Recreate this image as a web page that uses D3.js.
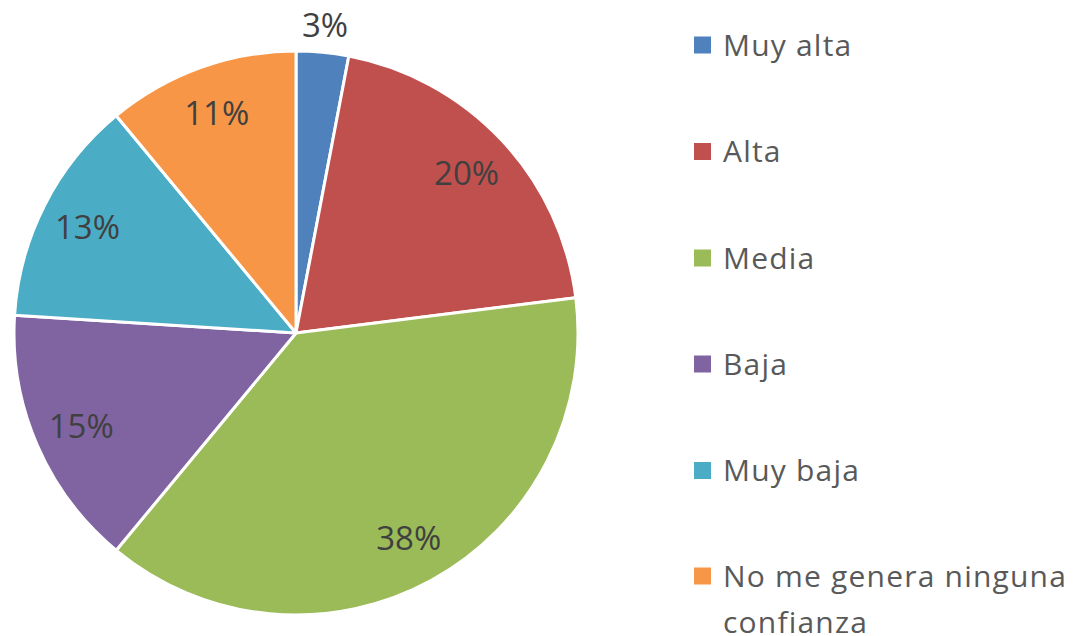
<!DOCTYPE html>
<html>
<head>
<meta charset="utf-8">
<script src="https://cdn.jsdelivr.net/npm/d3@7"></script>
<style>
  body { margin: 0; background: #fff; }
  svg { display: block; font-family: "Open Sans", Lato, sans-serif; }
</style>
</head>
<body>
<svg id="chart" width="1079" height="636"></svg>
<script>
// data
const categories = ['Muy alta', 'Alta', 'Media', 'Baja', 'Muy baja', 'No me genera ninguna confianza'];
const values = [3, 20, 38, 15, 13, 11];
const colors = ['#4f81bd', '#c0504d', '#9bbb59', '#8064a2', '#4bacc6', '#f79646'];

const svg = d3.select('#chart');
const cx = 296, cy = 333, radius = 282;

const pie = d3.pie().sort(null).value(d => d);
const arcs = pie(values);
const arc = d3.arc().innerRadius(0).outerRadius(radius);

const g = svg.append('g').attr('transform', `translate(${cx},${cy})`);

g.selectAll('path.slice')
  .data(arcs)
  .enter().append('path')
  .attr('class', 'slice')
  .attr('d', arc)
  .attr('fill', (d, i) => colors[i])
  .attr('stroke', '#fff')
  .attr('stroke-width', 3)
  .attr('stroke-linejoin', 'round');

// labels, inside except the tiny one which sits just outside
const labelArc = d3.arc().innerRadius(234).outerRadius(234);
const outerArc = d3.arc().innerRadius(309).outerRadius(309);
g.selectAll('text.lbl')
  .data(arcs)
  .enter().append('text')
  .attr('class', 'lbl')
  .attr('transform', d => `translate(${(d.data < 5 ? outerArc : labelArc).centroid(d)})`)
  .attr('text-anchor', 'middle')
  .attr('dy', '0.36em')
  .attr('font-size', 33)
  .attr('fill', '#404040')
  .text(d => d.data + '%');

// legend
const legend = svg.append('g').attr('transform', 'translate(694,0)');
const ys = [45, 151.5, 258, 364, 470.5, 576];
categories.forEach((c, i) => {
  const item = legend.append('g').attr('transform', `translate(0,${ys[i]})`);
  item.append('rect').attr('x', 0).attr('y', -8.5).attr('width', 17).attr('height', 17).attr('fill', colors[i]);
  const t = item.append('text').attr('x', 29).attr('dy', '0.36em')
    .attr('font-size', 30).attr('letter-spacing', 1.2).attr('fill', '#595959');
  if (i === 5) {
    t.append('tspan').attr('x', 29).text('No me genera ninguna');
    t.append('tspan').attr('x', 29).attr('dy', 46).text('confianza');
  } else {
    t.text(c);
  }
});
</script>
</body>
</html>
